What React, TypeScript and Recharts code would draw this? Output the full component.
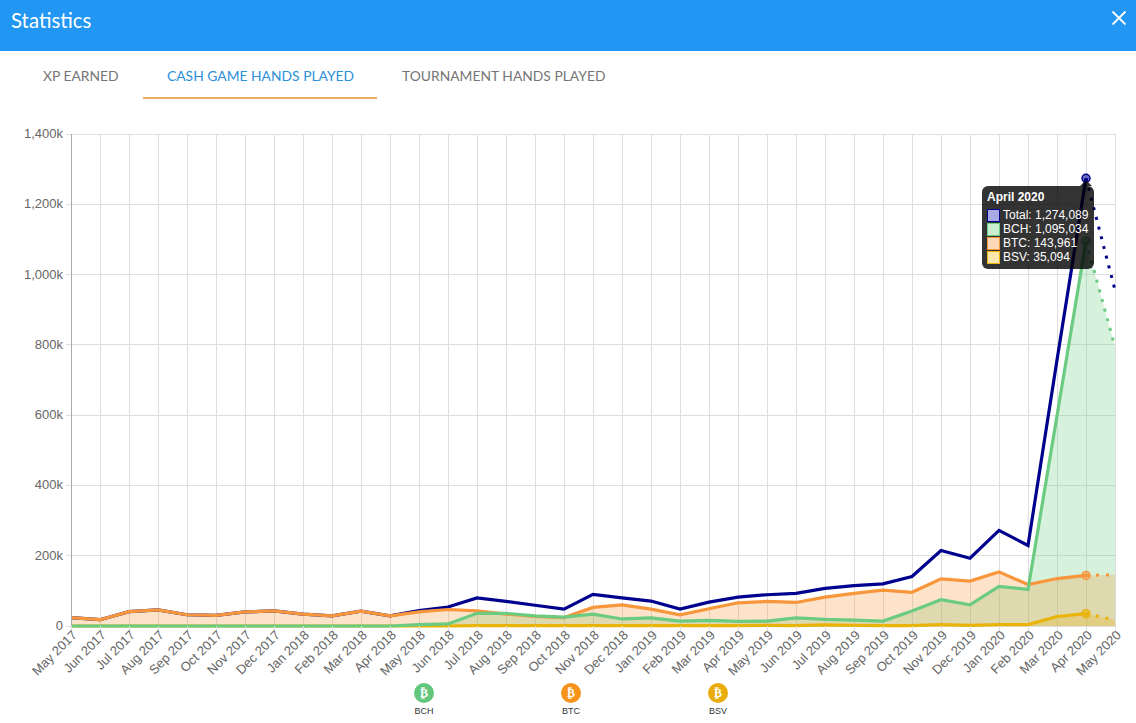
import * as React from "react";
import {
  ComposedChart,
  Area,
  Line,
  XAxis,
  YAxis,
  CartesianGrid,
  Tooltip,
} from "recharts";

const months = [
  "May 2017", "Jun 2017", "Jul 2017", "Aug 2017", "Sep 2017", "Oct 2017", "Nov 2017", "Dec 2017",
  "Jan 2018", "Feb 2018", "Mar 2018", "Apr 2018", "May 2018", "Jun 2018", "Jul 2018", "Aug 2018",
  "Sep 2018", "Oct 2018", "Nov 2018", "Dec 2018", "Jan 2019", "Feb 2019", "Mar 2019", "Apr 2019",
  "May 2019", "Jun 2019", "Jul 2019", "Aug 2019", "Sep 2019", "Oct 2019", "Nov 2019", "Dec 2019",
  "Jan 2020", "Feb 2020", "Mar 2020", "Apr 2020", "May 2020",
];

const totalValues = [
  24000, 18000, 41000, 46000, 32000, 30000, 40000, 43000, 34000, 29000, 42000, 29000,
  44000, 54000, 80000, 70000, 59000, 48000, 90000, 80000, 71000, 48000, 68000, 82000,
  89000, 93000, 107000, 115000, 120000, 141000, 215000, 193000, 272000, 229000, 757000, 1274089, 956000,
];
const bchValues = [
  0, 0, 0, 0, 0, 0, 0, 0, 0, 0, 0, 0,
  4000, 6000, 36000, 36000, 29000, 25000, 34000, 20000, 23000, 14000, 16000, 13000,
  14000, 23000, 19000, 17000, 14000, 43000, 75000, 60000, 113000, 104000, 598000, 1095034, 794000,
];
const btcValues = [
  24000, 18000, 41000, 46000, 32000, 30000, 40000, 43000, 34000, 29000, 42000, 29000,
  40000, 47000, 43000, 34000, 27000, 24000, 53000, 60000, 48000, 32000, 49000, 66000,
  70000, 67000, 82000, 93000, 102000, 96000, 134000, 128000, 154000, 118000, 135000, 143961, 146000,
];
const bsvValues = [
  0, 0, 0, 0, 0, 0, 0, 0, 0, 0, 0, 0,
  0, 0, 1000, 1000, 1000, 1000, 1000, 1000, 1000, 1000, 1000, 1000,
  2000, 1000, 3000, 2000, 1000, 1000, 4000, 2000, 4000, 4000, 27000, 35094, 17000,
];

const yTicks = [0, 200000, 400000, 600000, 800000, 1000000, 1200000, 1400000];
const tabs = ["XP EARNED", "CASH GAME HANDS PLAYED", "TOURNAMENT HANDS PLAYED"];
const coins = ["BCH", "BTC", "BSV"];

const HIGHLIGHT = months.length - 2;

const longMonth: Record<string, string> = { Apr: "April" };

const split = (key: string, values: number[], i: number) => ({
  [key]: values[i],
  [key + "Solid"]: i <= HIGHLIGHT ? values[i] : null,
  [key + "Dotted"]: i >= HIGHLIGHT ? values[i] : null,
});

const chartData = months.map((month, i) => ({
  month,
  ...split("total", totalValues, i),
  ...split("bch", bchValues, i),
  ...split("btc", btcValues, i),
  ...split("bsv", bsvValues, i),
}));

const COLORS: Record<string, string> = {
  total: "#00008f",
  bch: "#6bcb80",
  btc: "#f8963c",
  bsv: "#eab308",
};
const SWATCH: Record<string, string> = {
  total: "#a9a9e6",
  bch: "#c9eed2",
  btc: "#fdd9b8",
  bsv: "#fbe8ac",
};
const ICON: Record<string, string> = { BCH: "#62c77c", BTC: "#f7931a", BSV: "#e9ac0c" };

function XTick({ x, y, payload }: any) {
  return (
    <text
      x={x}
      y={y - 4}
      textAnchor="end"
      fontSize={13}
      fill="#666"
      fontFamily="Liberation Sans"
      transform={`rotate(-45 ${x} ${y - 4})`}
      dominantBaseline="hanging"
    >
      {payload.value}
    </text>
  );
}

function YTick({ x, y, payload }: any) {
  const v = payload.value as number;
  return (
    <text x={x} y={y + 4} textAnchor="end" fontSize={13} fill="#666" fontFamily="Liberation Sans">
      {v === 0 ? "0" : `${(v / 1000).toLocaleString("en-US")}k`}
    </text>
  );
}

function StatsTooltip() {
  const i = HIGHLIGHT;
  const [mon, year] = months[i].split(" ");
  const rows = [
    ["total", "Total", totalValues[i]],
    ["bch", "BCH", bchValues[i]],
    ["btc", "BTC", btcValues[i]],
    ["bsv", "BSV", bsvValues[i]],
  ] as [string, string, number][];
  return (
    <div
      style={{
        position: "relative",
        width: 112,
        height: 83,
        boxSizing: "border-box",
        padding: "4px 0 5px 5px",
        background: "rgba(0,0,0,0.8)",
        borderRadius: 6,
        color: "#fff",
        fontFamily: "Liberation Sans",
        fontSize: 12,
        lineHeight: "14px",
        whiteSpace: "nowrap",
      }}
    >
      <div
        style={{
          position: "absolute",
          left: 98,
          top: -6,
          width: 0,
          height: 0,
          borderLeft: "6px solid transparent",
          borderRight: "6px solid transparent",
          borderBottom: "6px solid rgba(0,0,0,0.8)",
        }}
      />
      <div style={{ fontWeight: "bold", marginBottom: 4 }}>
        {longMonth[mon] ?? mon} {year}
      </div>
      {rows.map(([key, label, value]) => (
        <div key={key} style={{ display: "flex", alignItems: "center", height: 14 }}>
          <span
            style={{
              display: "inline-block",
              flexShrink: 0,
              width: 13,
              height: 13,
              boxSizing: "border-box",
              background: SWATCH[key],
              border: `1px solid ${COLORS[key]}`,
              marginRight: 3,
            }}
          />
          <span>
            {label}: {value.toLocaleString("en-US")}
          </span>
        </div>
      ))}
    </div>
  );
}

function seriesLine(key: string) {
  const color = COLORS[key];
  return [
    <Line
      key={key + "Solid"}
      dataKey={key + "Solid"}
      stroke={color}
      strokeWidth={3.2}
      dot={false}
      activeDot={{ r: 4, fill: color, fillOpacity: 0.55, stroke: color, strokeWidth: 1.5 }}
      type="linear"
      isAnimationActive={false}
    />,
    <Line
      key={key + "Dotted"}
      dataKey={key + "Dotted"}
      stroke={color}
      strokeWidth={3}
      strokeDasharray="3 7"
      dot={false}
      activeDot={false}
      type="linear"
      isAnimationActive={false}
    />,
  ];
}

export default function App() {
  return (
    <div
      style={{
        position: "absolute",
        left: 0,
        top: 0,
        width: 1136,
        height: 723,
        overflow: "hidden",
        background: "#fff",
        fontFamily: "Lato",
      }}
    >
      <div style={{ position: "absolute", left: 0, top: 0, width: 1136, height: 51, background: "#2196f3" }}>
        <span style={{ position: "absolute", left: 11, top: 8, fontSize: 20.4, lineHeight: "24px", color: "#fff" }}>
          Statistics
        </span>
        <svg style={{ position: "absolute", left: 1111, top: 10 }} width={16} height={16}>
          <path d="M1.5 1.5L14.5 14.5M14.5 1.5L1.5 14.5" stroke="#fff" strokeWidth={1.8} />
        </svg>
      </div>

      {tabs.map((tab, i) => (
        <span
          key={tab}
          style={{
            position: "absolute",
            left: [43, 167, 402][i],
            top: 67,
            fontSize: 13.85,
            lineHeight: "18px",
            whiteSpace: "nowrap",
            color: i === 1 ? "#2b8fd8" : "#757575",
          }}
        >
          {tab}
        </span>
      ))}
      <div style={{ position: "absolute", left: 143, top: 97, width: 234, height: 2, background: "#e8ae5a" }} />

      <div style={{ position: "absolute", left: 0, top: 0 }}>
        <ComposedChart
          width={1136}
          height={723}
          data={chartData}
          margin={{ top: 134, right: 21, bottom: 0, left: 0 }}
        >
          <CartesianGrid stroke="#dedede" strokeWidth={1} shapeRendering="crispEdges" />
          <XAxis
            dataKey="month"
            scale="point"
            padding={{ left: 0, right: 0 }}
            interval={0}
            height={97}
            tick={<XTick />}
            tickSize={5}
            tickLine={{ stroke: "#ddd", shapeRendering: "crispEdges" }}
            axisLine={false}
          />
          <YAxis
            width={71}
            domain={[0, 1400000]}
            ticks={yTicks}
            tick={<YTick />}
            tickSize={5}
            tickMargin={3}
            tickLine={{ stroke: "#ddd", shapeRendering: "crispEdges" }}
            axisLine={{ stroke: "#aaa", shapeRendering: "crispEdges" }}
          />
          <Area dataKey="bch" stroke="none" fill="#6bcb80" fillOpacity={0.28} activeDot={false} isAnimationActive={false} />
          <Area dataKey="btc" stroke="none" fill="#f8963c" fillOpacity={0.27} activeDot={false} isAnimationActive={false} />
          <Area dataKey="bsv" stroke="none" fill="#eab308" fillOpacity={0.27} activeDot={false} isAnimationActive={false} />
          {seriesLine("total")}
          {seriesLine("bsv")}
          {seriesLine("btc")}
          {seriesLine("bch")}
          <Tooltip
            defaultIndex={HIGHLIGHT}
            position={{ x: 982, y: 186 }}
            content={<StatsTooltip />}
            cursor={false}
            isAnimationActive={false}
          />
        </ComposedChart>
      </div>

      {coins.map((coin, i) => (
        <div
          key={coin}
          style={{ position: "absolute", left: 404 + i * 147, top: 683, width: 40, textAlign: "center" }}
        >
          <div
            style={{
              width: 20,
              height: 20,
              margin: "0 auto",
              borderRadius: 10,
              background: ICON[coin],
              color: "#fff",
              fontFamily: "DejaVu Sans",
              fontWeight: "bold",
              fontSize: 12,
              lineHeight: "20px",
            }}
          >
            ₿
          </div>
          <div style={{ marginTop: 3, fontFamily: "Liberation Sans", fontSize: 9, lineHeight: "11px", color: "#333" }}>
            {coin}
          </div>
        </div>
      ))}
    </div>
  );
}
